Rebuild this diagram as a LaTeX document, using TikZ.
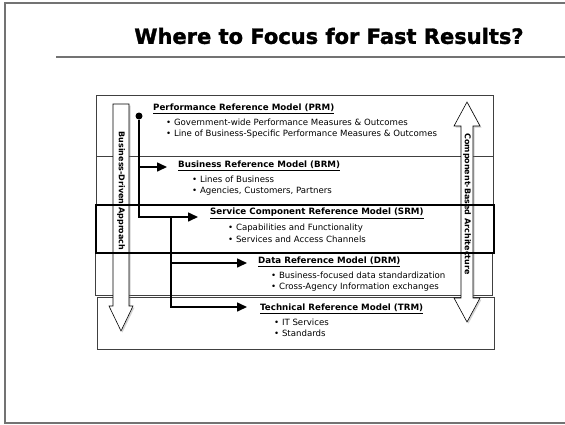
\documentclass[tikz,border=0pt]{standalone}
\usepackage{fontspec}
\setmainfont{DejaVu Sans}
\newfontfamily\headfont[BoldFont={DejaVu Sans Bold}, BoldFeatures={FakeBold=1.5}]{DejaVu Sans}
\usetikzlibrary{arrows.meta, positioning, shadows}
\tikzstyle{band} = [rectangle, draw=black!75, line width=0.8pt, fill=white,
minimum width=397pt, inner sep=0pt, anchor=north west]
\tikzstyle{model} = [anchor=west, inner sep=0pt,
font=\fontsize{8.7}{10}\selectfont\bfseries]
\tikzstyle{items} = [inner sep=0pt, align=left,
font=\fontsize{8.6}{11.5}\selectfont]
\tikzstyle{hollow} = [draw=black, line width=0.6pt, fill=white,
drop shadow={shadow xshift=1.5pt, shadow yshift=-1.5pt, opacity=0.35}]
\tikzstyle{banner} = [rotate=-90, inner sep=0pt,
font=\fontsize{8}{9}\selectfont\bfseries]
\tikzstyle{trunk} = [line width=1.6pt]
\tikzstyle{link} = [line width=1.6pt, -{Triangle[length=10pt, width=9pt]}]
\tikzstyle{focus} = [draw=black, line width=2pt]

\begin{document}
\begin{tikzpicture}[x=1pt, y=-1pt]
\useasboundingbox (0,0) rectangle (565,424);

% slide frame and heading
\draw[black!55, line width=1.2pt] (565,3) -- (5,3) -- (5,423) -- (565,423);
\draw[black!55, line width=1.2pt] (56,57) -- (565,57);
\node(heading)[font=\fontsize{21}{24}\headfont\bfseries] at (329,36) {Where to Focus for Fast Results?};

% layers
\node(prmband)[band, minimum height=61pt] at (96,95) {};
\node(brmband)[band, minimum height=49pt] at (96,156) {};
\node(srmband)[band, minimum height=47pt] at (96,205) {};
\node(drmband)[band, minimum height=43pt] at (95,252) {};
\node(trmband)[band, minimum height=52pt] at (97,297) {};

% hollow arrows
\draw[hollow] (113,104) -- (129,104) -- (129,306) -- (133,306) -- (121,331) -- (109,306) -- (113,306) -- cycle;
\draw[hollow] (467,102) -- (480,126) -- (473,126) -- (473,298) -- (480,298) -- (467,322)
-- (454,298) -- (461,298) -- (461,126) -- (454,126) -- cycle;
\node(bizdriven)[banner] at (121,191) {Business-Driven Approach};
\node(compbased)[banner] at (467,204) {Component-Based Architecture};

% models
\node(prm)[model] at (153,108.5) {\underline{Performance Reference Model (PRM)}};
\node(prmlist)[items, below right=5pt and 13pt of prm.south west]
{• Government-wide Performance Measures \& Outcomes\\• Line of Business-Specific Performance Measures \& Outcomes};
\node(brm)[model] at (178,165.5) {\underline{Business Reference Model (BRM)}};
\node(brmlist)[items, below right=5pt and 14pt of brm.south west]
{• Lines of Business\\• Agencies, Customers, Partners};
\node(srm)[model] at (210,213.5) {\underline{Service Component Reference Model (SRM)}};
\node(srmlist)[items, below right=5pt and 18pt of srm.south west]
{• Capabilities and Functionality\\• Services and Access Channels};
\node(drm)[model] at (258,261.5) {\underline{Data Reference Model (DRM)}};
\node(drmlist)[items, below right=5pt and 13pt of drm.south west]
{• Business-focused data standardization\\• Cross-Agency Information exchanges};
\node(trm)[model] at (260,308.5) {\underline{Technical Reference Model (TRM)}};
\node(trmlist)[items, below right=5pt and 14pt of trm.south west]
{• IT Services\\• Standards};

% connectors
\node(dot)[circle, fill=black, inner sep=0pt, minimum size=7pt] at (139,116) {};
\coordinate(brmfork) at (139,167);
\coordinate(srmfork) at (171,217);
\coordinate(drmfork) at (171,263);
\coordinate(brmin) at (167,167);
\coordinate(srmin) at (198,217);
\coordinate(drmin) at (247,263);
\coordinate(trmin) at (247,307);
\draw[link](dot) |- (srmin);
\draw[link](brmfork) -- (brmin);
\draw[link](srmfork) |- (trmin);
\draw[link](drmfork) -- (drmin);

% focus on the service layer
\draw[focus](srmband.north west) rectangle (srmband.south east);

\end{tikzpicture}
\end{document}
